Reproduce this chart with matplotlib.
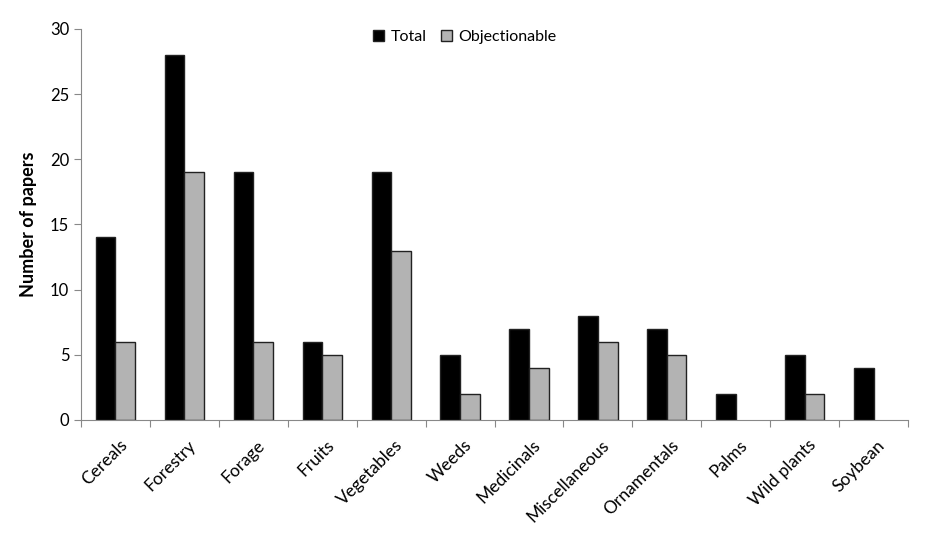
import matplotlib
matplotlib.use("Agg")
import matplotlib.pyplot as plt
import numpy as np

plt.rcParams["font.family"] = ["Lato", "DejaVu Sans"]

categories = ["Cereals", "Forestry", "Forage", "Fruits", "Vegetables", "Weeds",
              "Medicinals", "Miscellaneous", "Ornamentals", "Palms", "Wild plants", "Soybean"]
total = [14, 28, 19, 6, 19, 5, 7, 8, 7, 2, 5, 4]
objectionable = [6, 19, 6, 5, 13, 2, 4, 6, 5, 0, 2, 0]

x = np.arange(len(categories))
width = 0.285

fig = plt.figure(figsize=(9.38, 5.35), dpi=100)
ax = fig.add_axes([0.0864, 0.215, 0.8816, 0.731])

ax.bar(x - width / 2, total, width, color="black", edgecolor="#222222",
       linewidth=[1 if v > 0 else 0 for v in total], label="Total")
ax.bar(x + width / 2, objectionable, width, color="#b3b3b3", edgecolor="#222222",
       linewidth=[1 if v > 0 else 0 for v in objectionable], label="Objectionable")

ax.set_xlim(-0.5, len(categories) - 0.5)
ax.set_ylim(0, 30)
ax.set_yticks(range(0, 31, 5))
ax.tick_params(axis="y", labelsize=12, length=5, color="#888888", direction="out")

ax.set_xticks(np.arange(len(categories) + 1) - 0.5)
ax.set_xticklabels([])
ax.tick_params(axis="x", length=5, color="#888888", direction="out")
for i, name in enumerate(categories):
    ax.text(i + 0.05, -1.3, name, rotation=45, ha="right", va="top", rotation_mode="anchor",
            fontsize=12.5)

for side in ["top", "right"]:
    ax.spines[side].set_visible(False)
for side in ["left", "bottom"]:
    ax.spines[side].set_color("#888888")

ax.set_ylabel("Number of papers", fontsize=13, fontweight="bold", labelpad=9)

ax.legend(loc="upper center", bbox_to_anchor=(0.464, 1.035), ncol=2, frameon=False, fontsize=11.5,
          handlelength=0.7, handleheight=0.7, handletextpad=0.4, columnspacing=0.9)

fig.savefig("out.png", dpi=100)
